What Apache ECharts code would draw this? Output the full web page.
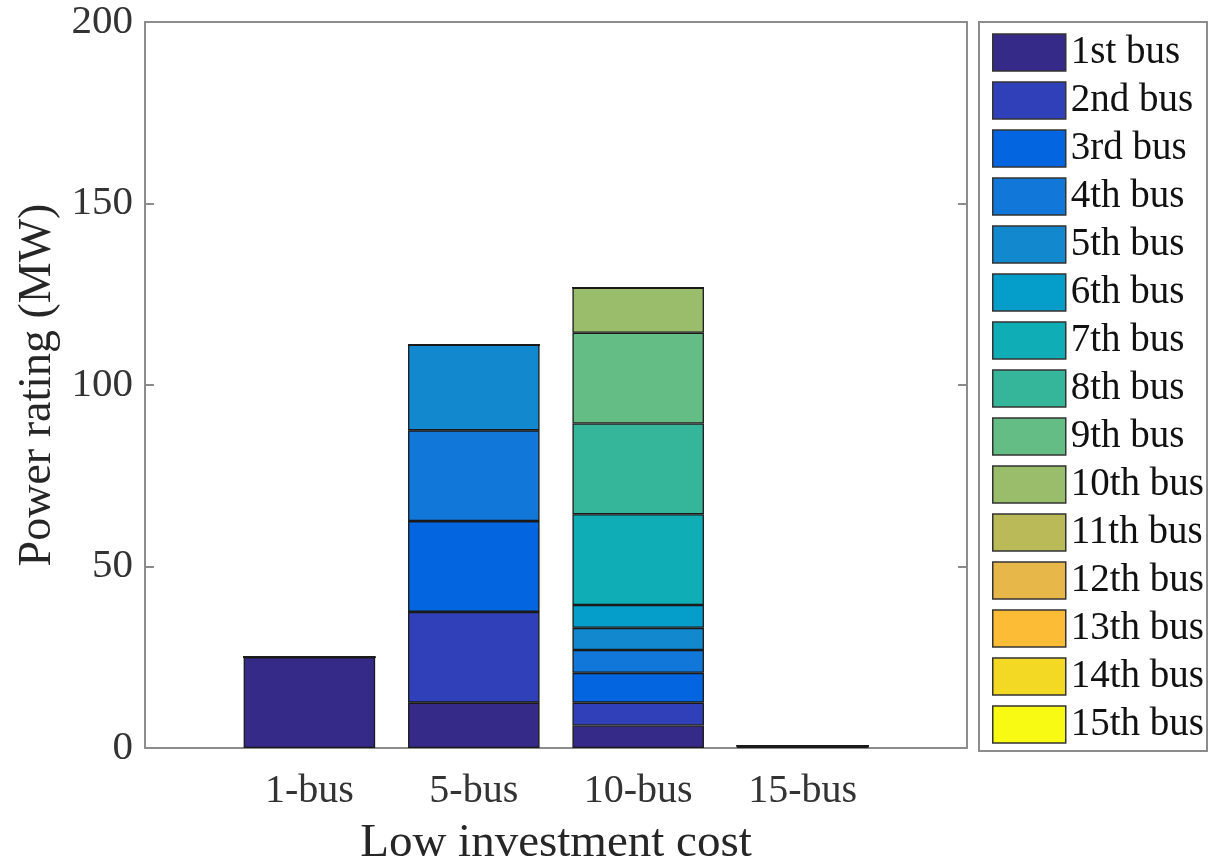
<!DOCTYPE html>
<html>
<head>
<meta charset="utf-8">
<script src="https://cdn.jsdelivr.net/npm/echarts@6/dist/echarts.min.js"></script>
<style>
html,body{margin:0;padding:0;background:#fff;}
#chart{width:1214px;height:861px;}
</style>
</head>
<body>
<div id="chart"></div>
<script>
// Categories (x axis)
const categories = ['1-bus', '5-bus', '10-bus', '15-bus'];
// Series names (legend)
const seriesNames = ['1st bus','2nd bus','3rd bus','4th bus','5th bus','6th bus','7th bus','8th bus','9th bus','10th bus','11th bus','12th bus','13th bus','14th bus','15th bus'];
// Stack values per series, one value per category (MW)
const bus1  = [25, 12.5, 6.2, 0.6];
const bus2  = [0, 25, 6.3, 0];
const bus3  = [0, 25, 8.2, 0];
const bus4  = [0, 25, 6.3, 0];
const bus5  = [0, 23.6, 6.1, 0];
const bus6  = [0, 0, 6.3, 0];
const bus7  = [0, 0, 25, 0];
const bus8  = [0, 0, 25, 0];
const bus9  = [0, 0, 25, 0];
const bus10 = [0, 0, 12.4, 0];
const bus11 = [0, 0, 0, 0];
const bus12 = [0, 0, 0, 0];
const bus13 = [0, 0, 0, 0];
const bus14 = [0, 0, 0, 0];
const bus15 = [0, 0, 0, 0];
const seriesValues = [bus1,bus2,bus3,bus4,bus5,bus6,bus7,bus8,bus9,bus10,bus11,bus12,bus13,bus14,bus15];
// Y tick values
const yTicks = [0, 50, 100, 150, 200];

const colors = ['#352A87','#3040B8','#0365E0','#1177D8','#1289CF','#059ECB','#0FADB6','#35B69A','#63BD84','#99BD6A','#BBBA58','#E8B74A','#FDBC35','#F3D923','#F9FA13'];

const font = '"Liberation Serif", "DejaVu Serif", serif';
const axisColor = '#8c8c8c';
const xCats = [''].concat(categories, ['']);

const series = seriesNames.map((name, i) => ({
  name: name,
  type: 'bar',
  stack: 'total',
  barWidth: '80%',
  data: categories.map((c, j) => [c, seriesValues[i][j]]),
  itemStyle: { color: colors[i], borderColor: '#1a1a1a', borderWidth: 1.3 },
  emphasis: { disabled: true }
}));

const chart = echarts.init(document.getElementById('chart'), null, { renderer: 'canvas' });
chart.setOption({
  animation: false,
  backgroundColor: '#fff',
  grid: { left: 145, top: 22, right: 247, bottom: 113, containLabel: false, outerBoundsMode: 'none', show: true, borderColor: axisColor, borderWidth: 2, backgroundColor: 'transparent' },
  legend: {
    orient: 'vertical',
    left: 979, top: 22,
    itemWidth: 73, itemHeight: 37, itemGap: 9, itemTextGap: 8,
    padding: [11, 3, 7, 13],
    borderColor: axisColor, borderWidth: 2,
    icon: 'rect',
    textStyle: { fontFamily: font, fontSize: 39, color: '#111' },
    itemStyle: { borderColor: '#333', borderWidth: 1.5 },
    selectedMode: false,
    data: seriesNames
  },
  xAxis: {
    type: 'category',
    data: xCats,
    boundaryGap: false,
    axisLine: { show: true, lineStyle: { color: axisColor, width: 2 } },
    axisTick: { show: false },
    axisLabel: { fontFamily: font, fontSize: 40, color: '#333', margin: 23, interval: 0 },
    splitLine: { show: false },
    name: 'Low investment cost',
    nameLocation: 'middle',
    nameGap: 72,
    nameTextStyle: { fontFamily: font, fontSize: 47, color: '#262626' }
  },
  yAxis: [{
    type: 'value',
    min: yTicks[0], max: yTicks[yTicks.length - 1], interval: 50,
    axisLine: { show: true, lineStyle: { color: axisColor, width: 2 } },
    axisTick: { show: true, inside: true, length: 9, lineStyle: { color: axisColor, width: 2 } },
    axisLabel: { fontFamily: font, fontSize: 41, color: '#333', margin: 12 },
    splitLine: { show: false },
    name: 'Power rating (MW)',
    nameLocation: 'middle',
    nameGap: 84,
    nameTextStyle: { fontFamily: font, fontSize: 46, color: '#262626' }
  }, {
    type: 'value',
    position: 'right',
    min: yTicks[0], max: yTicks[yTicks.length - 1], interval: 50,
    axisLine: { show: true, lineStyle: { color: axisColor, width: 2 } },
    axisTick: { show: true, inside: true, length: 9, lineStyle: { color: axisColor, width: 2 } },
    axisLabel: { show: false },
    splitLine: { show: false }
  }],
  series: series
});
</script>
</body>
</html>
